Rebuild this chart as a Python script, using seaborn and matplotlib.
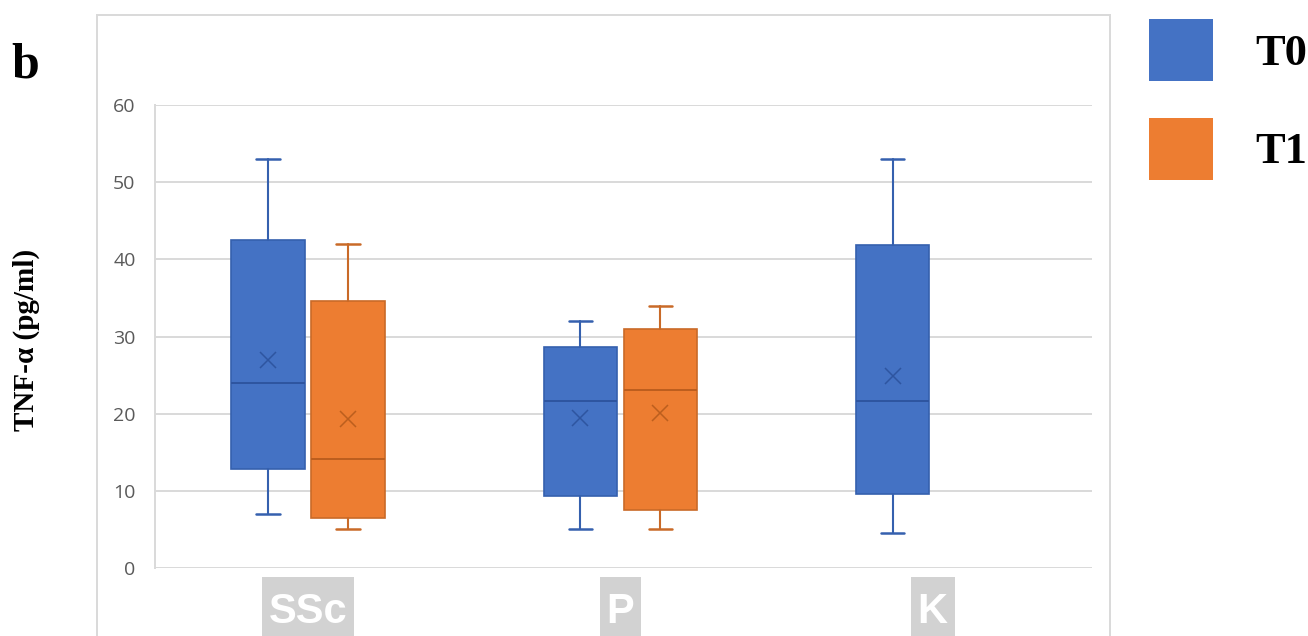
import matplotlib
matplotlib.use("Agg")
import matplotlib.pyplot as plt
from matplotlib.patches import Patch, Rectangle
from matplotlib.transforms import IdentityTransform
import seaborn as sns

# Groups and time points
groups = ["SSc", "P", "K"]
times = ["T0", "T1"]

# Box statistics per (group, time): TNF-alpha in pg/ml
stat_group = ["SSc", "SSc", "P", "P", "K"]
stat_time = ["T0", "T1", "T0", "T1", "T0"]
whisker_low = [7.0, 5.0, 5.0, 5.0, 4.5]
q1 = [12.8, 6.5, 9.3, 7.5, 9.6]
median = [24.0, 14.1, 21.6, 23.1, 21.6]
q3 = [42.5, 34.6, 28.6, 31.0, 41.8]
whisker_high = [53.0, 42.0, 32.0, 34.0, 53.0]
mean = [26.9, 19.3, 19.4, 20.1, 24.9]

y_ticks = [0, 10, 20, 30, 40, 50, 60]
y_label = "TNF-\u03b1 (pg/ml)"
panel_label = "b"

sns.set_theme(style="white")
plt.rcParams["font.family"] = ["DejaVu Sans"]
plt.rcParams["text.color"] = "black"

fill = {"T0": "#4472C4", "T1": "#ED7D31"}
edge = {"T0": "#3560AE", "T1": "#C96A28"}
dark = {"T0": "#2E55A0", "T1": "#BC5E1E"}
offset = {"T0": -0.128, "T1": 0.128}
box_w = 0.235

fig = plt.figure(figsize=(13.08, 6.36), dpi=100)
W, H = 1308, 636
ax = fig.add_axes([155 / W, 1 - 568 / H, (1092 - 155) / W, (568 - 105) / H])

for i in range(len(stat_group)):
    g, t = stat_group[i], stat_time[i]
    pos = groups.index(g) + offset[t]
    stats = [dict(med=median[i], q1=q1[i], q3=q3[i],
                  whislo=whisker_low[i], whishi=whisker_high[i],
                  mean=mean[i], fliers=[])]
    ax.bxp(stats, positions=[pos], widths=box_w, patch_artist=True,
           showmeans=True, showfliers=False, manage_ticks=False,
           boxprops=dict(facecolor=fill[t], edgecolor=edge[t], linewidth=1.2),
           medianprops=dict(color=dark[t], linewidth=1.4),
           whiskerprops=dict(color=edge[t], linewidth=1.5),
           capprops=dict(color=edge[t], linewidth=1.8),
           capwidths=0.075,
           meanprops=dict(marker="x", markeredgecolor=dark[t],
                          markersize=12, markeredgewidth=1.1),
           zorder=3)

ax.set_xlim(-0.49, 2.51)
ax.set_ylim(0, 60)
ax.set_yticks(y_ticks)
ax.set_yticklabels([str(v) for v in y_ticks], fontsize=14, color="#5a5a5a",
                   family=["Open Sans", "DejaVu Sans"])
ax.yaxis.grid(True, color="#d9d9d9", linewidth=1.4)
ax.set_axisbelow(True)
ax.tick_params(axis="y", length=0, pad=14)
ax.tick_params(axis="x", length=0, pad=17.5)

ax.set_xticks(range(len(groups)))
ax.set_xticklabels(groups, fontsize=30, fontweight="bold", color="white",
                   family=["Liberation Sans", "DejaVu Sans"])

for side in ["top", "right", "bottom"]:
    ax.spines[side].set_visible(False)
ax.spines["left"].set_color("#d9d9d9")
ax.spines["left"].set_linewidth(1.4)

# Outer chart frame
fig.add_artist(Rectangle((97 / W, -0.05), (1110 - 97) / W, (1 - 15 / H) + 0.05,
                         transform=fig.transFigure, fill=False,
                         edgecolor="#d9d9d9", linewidth=1.4, zorder=0))

ax.set_ylabel("")
fig.text(26 / W, 1 - 340 / H, y_label, rotation=90, ha="center", va="center",
         fontsize=21, fontweight="bold", color="black",
         family=["Liberation Serif", "DejaVu Serif"])
fig.text(11 / W, 1 - 77 / H, panel_label, ha="left", va="baseline",
         fontsize=36, fontweight="bold", color="black",
         family=["Liberation Serif", "DejaVu Serif"])

handles = [Patch(facecolor=fill[t], edgecolor="none") for t in times]
fig.legend(handles, times, loc="upper left", bbox_to_anchor=(1149 / W, 1 - 19 / H),
           frameon=False, borderpad=0, borderaxespad=0,
           handlelength=1.44, handleheight=1.78, handletextpad=0.95,
           labelspacing=0.82, labelcolor="black",
           prop=dict(family=["Liberation Serif", "DejaVu Serif"], weight="bold", size=32))

# Grey label plates behind the category names, sized from the rendered text
fig.canvas.draw()
for lab in ax.get_xticklabels():
    bb = lab.get_window_extent()
    fig.add_artist(Rectangle((bb.x0 - 7, -20), bb.width + 14, bb.y1 + 15 + 20,
                             transform=IdentityTransform(), facecolor="#d2d2d2",
                             edgecolor="none", zorder=-1))

fig.savefig("out.png", dpi=100)
